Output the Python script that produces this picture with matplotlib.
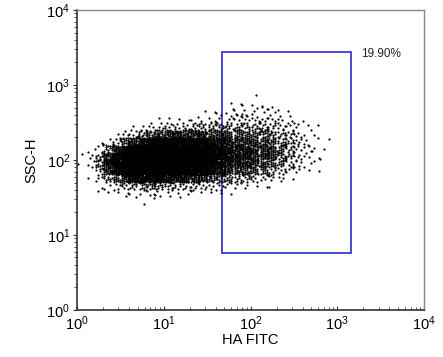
import numpy as np
import matplotlib
matplotlib.use('Agg')
import matplotlib.pyplot as plt
import matplotlib.patches as mpatches
import matplotlib.ticker as ticker

plt.rcParams['font.family'] = ['Liberation Sans', 'DejaVu Sans']
plt.rcParams['mathtext.default'] = 'regular'

# event density: counts per cell
# columns = log10(HA FITC) bins, rows = log10(SSC-H) bins (top row first)
fitc_edges = np.arange(0.0, 3.01, 0.1)
ssc_rows = [2.85, 2.75, 2.65, 2.55, 2.45, 2.35, 2.25, 2.15, 2.05, 1.95, 1.85, 1.75, 1.65, 1.55, 1.45]
ssc_step = 0.1
counts_by_col = [
    [0, 0, 0, 0, 0, 0, 0, 0, 1, 1, 0, 0, 0, 0, 0],
    [0, 0, 0, 0, 0, 0, 0, 1, 2, 2, 1, 1, 0, 0, 0],
    [0, 0, 0, 0, 0, 0, 1, 3, 8, 10, 6, 3, 1, 1, 0],
    [0, 0, 0, 0, 0, 0, 2, 10, 25, 30, 20, 8, 2, 1, 0],
    [0, 0, 0, 0, 0, 1, 6, 25, 45, 50, 35, 15, 4, 1, 0],
    [0, 0, 0, 0, 0, 3, 15, 40, 60, 65, 50, 25, 6, 2, 0],
    [0, 0, 0, 0, 1, 6, 25, 55, 70, 75, 60, 35, 8, 2, 0],
    [0, 0, 0, 0, 2, 10, 35, 65, 80, 80, 65, 40, 10, 2, 1],
    [0, 0, 0, 0, 3, 15, 45, 70, 85, 85, 70, 40, 10, 3, 1],
    [0, 0, 0, 1, 4, 20, 50, 75, 85, 85, 70, 40, 10, 3, 0],
    [0, 0, 0, 1, 5, 22, 50, 75, 85, 80, 65, 35, 8, 2, 0],
    [0, 0, 0, 1, 5, 22, 50, 70, 80, 75, 60, 30, 7, 2, 0],
    [0, 0, 0, 1, 6, 22, 48, 68, 75, 70, 55, 28, 6, 2, 0],
    [0, 0, 0, 1, 6, 22, 45, 62, 68, 62, 48, 24, 6, 1, 0],
    [0, 0, 1, 2, 8, 22, 45, 58, 62, 56, 44, 20, 5, 1, 0],
    [0, 0, 1, 3, 8, 20, 38, 50, 54, 48, 38, 16, 4, 1, 0],
    [0, 0, 1, 3, 8, 17, 31, 42, 44, 39, 28, 13, 4, 1, 0],
    [0, 1, 2, 4, 9, 16, 26, 34, 35, 31, 21, 10, 3, 1, 0],
    [0, 1, 2, 4, 9, 15, 23, 30, 31, 27, 18, 8, 3, 0, 0],
    [0, 1, 3, 4, 9, 14, 21, 27, 28, 24, 17, 7, 2, 0, 0],
    [1, 1, 3, 4, 8, 14, 20, 25, 25, 21, 14, 6, 1, 0, 0],
    [0, 1, 3, 4, 8, 13, 18, 22, 22, 18, 11, 4, 1, 0, 0],
    [0, 1, 2, 4, 7, 11, 15, 18, 18, 14, 8, 3, 1, 0, 0],
    [0, 0, 1, 3, 5, 8, 11, 14, 12, 10, 6, 3, 0, 0, 0],
    [0, 0, 1, 2, 4, 6, 8, 8, 8, 6, 3, 1, 0, 0, 0],
    [0, 0, 0, 1, 3, 4, 5, 5, 5, 4, 2, 0, 0, 0, 0],
    [0, 0, 0, 0, 1, 2, 3, 3, 3, 2, 1, 0, 0, 0, 0],
    [0, 0, 0, 0, 1, 1, 1, 2, 1, 1, 1, 0, 0, 0, 0],
    [0, 0, 0, 0, 0, 0, 1, 1, 1, 0, 0, 0, 0, 0, 0],
    [0, 0, 0, 0, 0, 0, 0, 0, 0, 0, 0, 0, 0, 0, 0],
]

# gate
gate_x = (47, 1440)
gate_y = (5.8, 2750)
gate_label = '19.90%'

# spread each cell's events evenly over the cell (R2 low-discrepancy layout)
a1, a2 = 0.7548776662, 0.5698402910
xs, ys = [], []
for c, col in enumerate(counts_by_col):
    x0 = fitc_edges[c]
    for r, n in enumerate(col):
        if n == 0:
            continue
        y0 = ssc_rows[r] - ssc_step / 2
        k = np.arange(n)
        off = (c * 31 + r * 17) * 0.618034
        u = (off + 0.5 + k * a1) % 1.0
        v = (off * 1.3 + 0.5 + k * a2) % 1.0
        xs.append(10 ** (x0 + u * 0.1))
        ys.append(10 ** (y0 + v * ssc_step))
xs = np.concatenate(xs)
ys = np.concatenate(ys)

fig = plt.figure(figsize=(4.43, 3.57), dpi=100)
ax = fig.add_axes([0.174, 0.132, 0.783, 0.840])

ax.plot(xs, ys, 'o', color='black', markersize=1.6, markeredgewidth=0)

ax.add_patch(mpatches.Rectangle((gate_x[0], gate_y[0]), gate_x[1] - gate_x[0],
                                gate_y[1] - gate_y[0], fill=False,
                                edgecolor='#3b3bd0', linewidth=1.3))
ax.text(1900, gate_y[1] * 0.93, gate_label, fontsize=8.5, ha='left', va='center',
        color='#222222')

ax.set_xscale('log')
ax.set_yscale('log')
ax.set_xlim(1, 1e4)
ax.set_ylim(1, 1e4)
ax.xaxis.set_major_locator(ticker.LogLocator(base=10, numticks=10))
ax.yaxis.set_major_locator(ticker.LogLocator(base=10, numticks=10))
ax.xaxis.set_minor_locator(ticker.LogLocator(base=10, subs=np.arange(2, 10), numticks=10))
ax.yaxis.set_minor_locator(ticker.LogLocator(base=10, subs=np.arange(2, 10), numticks=10))

ax.tick_params(axis='x', which='both', direction='in', labelsize=10.5, pad=3, colors='#333333', labelcolor='black')
ax.tick_params(axis='y', which='both', direction='out', labelsize=10.5, pad=2, colors='#333333', labelcolor='black')
ax.tick_params(which='major', length=3, width=0.8)
ax.tick_params(which='minor', length=2, width=0.6)

for s in ['left', 'bottom']:
    ax.spines[s].set_color('#333333')
    ax.spines[s].set_linewidth(1.2)
for s in ['top', 'right']:
    ax.spines[s].set_color('#888888')
    ax.spines[s].set_linewidth(1.0)

ax.set_xlabel('HA FITC', fontsize=10.5, labelpad=0)
ax.set_ylabel('SSC-H', fontsize=10.5, labelpad=6)

fig.savefig('out.png', dpi=100)
